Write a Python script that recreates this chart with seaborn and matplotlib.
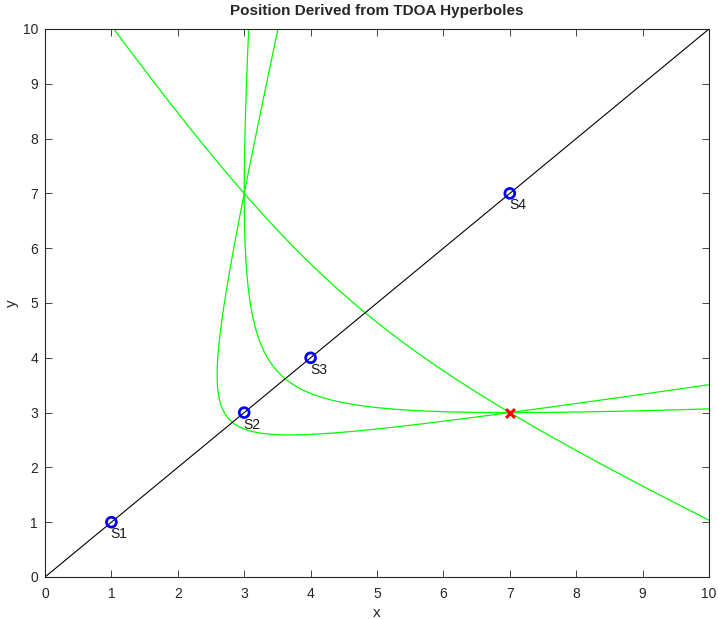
import numpy as np
import pandas as pd
import matplotlib
matplotlib.use("Agg")
import matplotlib.pyplot as plt
import seaborn as sns

# Sensor positions along the diagonal and the true emitter position
sensor_names = ["S1", "S2", "S3", "S4"]
sensor_x = [1, 3, 4, 7]
sensor_y = [1, 3, 4, 7]
target_x = 7
target_y = 3
# TDOA pairs (reference sensor S1 against the others)
pairs = [(0, 1), (0, 2), (0, 3)]
ticks = list(range(0, 11))

sns.set_theme(style="white")
plt.rcParams["font.family"] = ["Liberation Sans", "DejaVu Sans"]

fig = plt.figure(figsize=(7.18, 6.19), dpi=100)
ax = fig.add_axes([45 / 718, 1 - 577 / 619, (709 - 45) / 718, (577 - 29) / 619])

sx = np.array(sensor_x, float)
sy = np.array(sensor_y, float)


def hyperbola_branch(i, j):
    """Branch of |P-Si| - |P-Sj| = d_ij where d_ij comes from the target."""
    p = np.array([target_x, target_y], float)
    f1 = np.array([sx[i], sy[i]])
    f2 = np.array([sx[j], sy[j]])
    d = np.linalg.norm(p - f1) - np.linalg.norm(p - f2)
    ctr = (f1 + f2) / 2
    c = np.linalg.norm(f2 - f1) / 2
    u = (f2 - f1) / (2 * c)
    v = np.array([-u[1], u[0]])
    a = abs(d) / 2
    b = np.sqrt(c ** 2 - a ** 2)
    s = np.sign(d)
    t = np.linspace(-6, 6, 20001)
    pts = ctr[None, :] + (s * a * np.cosh(t))[:, None] * u[None, :] + (b * np.sinh(t))[:, None] * v[None, :]
    m = (pts[:, 0] >= -0.5) & (pts[:, 0] <= 10.5) & (pts[:, 1] >= -0.5) & (pts[:, 1] <= 10.5)
    return pts[m]


for k, (i, j) in enumerate(pairs):
    pts = hyperbola_branch(i, j)
    df = pd.DataFrame({"x": pts[:, 0], "y": pts[:, 1]})
    sns.lineplot(data=df, x="x", y="y", sort=False, estimator=None, ax=ax,
                 color="#00ff00", linewidth=0.9)

# Line through the sensors
diag = pd.DataFrame({"x": [0, 10], "y": [0, 10]})
sns.lineplot(data=diag, x="x", y="y", ax=ax, color="black", linewidth=0.8)

sens = pd.DataFrame({"x": sensor_x, "y": sensor_y, "name": sensor_names})
sns.scatterplot(data=sens, x="x", y="y", ax=ax, marker="o", s=50,
                facecolor="none", edgecolor="#0000ff", linewidth=2, zorder=5)
for _, r in sens.iterrows():
    ax.text(r["x"] - 0.01, r["y"] - 0.09, r["name"], fontsize=10, va="top", ha="left", color="#1a1a1a")

ax.scatter([target_x], [target_y], marker="x", s=40, color="#ff0000", linewidths=2.2, zorder=6)

ax.set_xlim(0, 10)
ax.set_ylim(0, 10)
ax.set_xticks(ticks)
ax.set_yticks(ticks)
ax.set_xlabel("x", fontsize=11, color="#262626")
ax.set_ylabel("y", fontsize=11, color="#262626")
ax.xaxis.set_label_coords(0.5, -0.066)
ax.yaxis.set_label_coords(-0.05, 0.5)
ax.xaxis.label.set_va("center")
ax.yaxis.label.set_va("center")
ax.set_title("Position Derived from TDOA Hyperboles", fontsize=11, fontweight="bold", pad=10)
ax.tick_params(direction="in", length=5, width=0.6, colors="#262626", labelsize=10,
               top=True, right=True, bottom=True, left=True, labeltop=False, labelright=False)
ax.tick_params(axis="x", pad=7)
ax.tick_params(axis="y", pad=5)
for sp in ax.spines.values():
    sp.set_color("#262626")
    sp.set_linewidth(0.8)
    sp.set_visible(True)

fig.savefig("out.png", dpi=100, facecolor="white")
